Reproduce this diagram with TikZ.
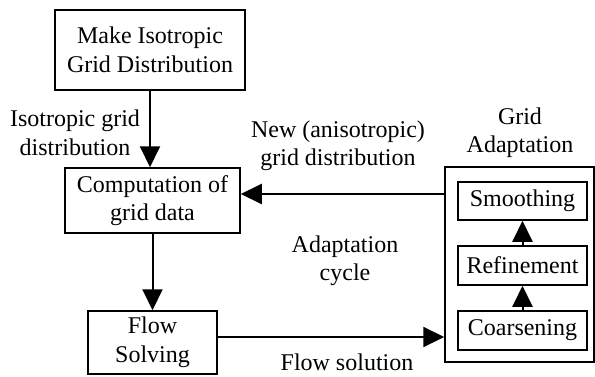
\documentclass[tikz,border=0pt]{standalone}
\usepackage{fontspec}
\setmainfont{Liberation Serif}
\usetikzlibrary{arrows.meta}

\tikzset{
  blocco/.style={draw, line width=1.5pt, inner sep=0pt, align=center,
    font=\fontsize{24}{28.5}\selectfont},
  etichetta/.style={align=center, inner sep=0pt,
    font=\fontsize{24}{28.5}\selectfont},
  freccia/.style={line width=2pt, -{Triangle[length=21pt,width=20pt]}}
}

\begin{document}
\begin{tikzpicture}[x=1pt,y=-1pt]
        \useasboundingbox (0,0) rectangle (595,376);

        %%%%%%%%%% Nodi %%%%%%%%%%
        \node[blocco, minimum width=190pt, minimum height=80pt] (make) at (150,50) {Make Isotropic\\Grid Distribution};
        \node[blocco, minimum width=175pt, minimum height=65pt] (comp) at (152.5,200.5) {Computation of\\grid data};
        \node[blocco, minimum width=129pt, minimum height=63pt] (flow) at (152.5,342.5) {Flow\\Solving};
        \node[blocco, minimum width=149pt, minimum height=195pt] (adapt) at (519.5,264.5) {};
        \node[blocco, minimum width=129pt, minimum height=38pt] (smooth) at (522.5,201) {Smoothing};
        \node[blocco, minimum width=129pt, minimum height=39pt] (refine) at (522.5,265.5) {Refinement};
        \node[blocco, minimum width=129pt, minimum height=39pt] (coarse) at (522.5,330.5) {Coarsening};

        %%%%%%%%% Etichette %%%%%%%%%
        \node[etichetta] (lisotr) at (75,133) {Isotropic grid\\distribution};
        \node[etichetta] (lnew) at (338,146) {New (anisotropic)\\grid distribution};
        \node[etichetta] (lgrid) at (520,132.5) {Grid\\Adaptation};
        \node[etichetta] (lcycle) at (345,261) {Adaptation\\cycle};
        \node[etichetta] (lflow) at (347,362) {Flow solution};

        \coordinate (pnew) at ([yshift=6.5pt]comp.east);
        \coordinate (pflow) at ([yshift=5.5pt]flow.east);

        %%%%%%%%% Frecce %%%%%%%%%
        \draw[freccia] (make.south) -- (make.south |- comp.north);
        \draw[freccia] (comp.south) -- (comp.south |- flow.north);
        \draw[freccia] (adapt.west |- pnew) -- (pnew);
        \draw[freccia] (pflow) -- (adapt.west |- pflow);
        \draw[freccia] (coarse.north) -- (refine.south);
        \draw[freccia] (refine.north) -- (smooth.south);
    \end{tikzpicture}
\end{document}
